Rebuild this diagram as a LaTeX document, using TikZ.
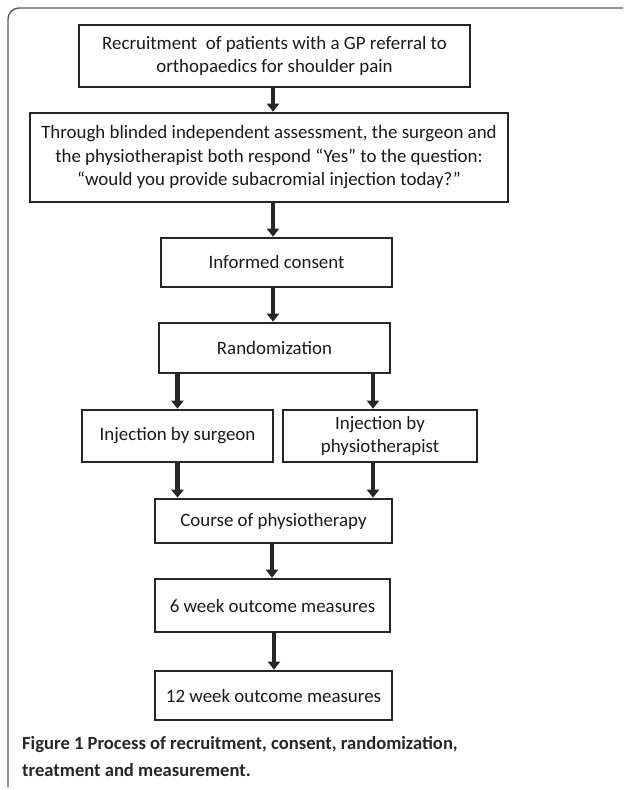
\documentclass[tikz,border=0pt]{standalone}
\usepackage{fontspec}
\setmainfont{Carlito}
\usetikzlibrary{arrows.meta, calc, positioning}

\begin{document}
\begin{tikzpicture}[x=1pt, y=-1pt,
		stage/.style={rectangle, draw=black!85, line width=2.6pt, align=center, inner sep=2pt,
			font=\fontsize{18.9}{23.5}\selectfont, text=black!90},
		flow/.style={-{Triangle[width=12pt, length=8pt]}, line width=4.2pt, black!85},
		frame/.style={draw=black!65, line width=1.4pt, rounded corners=11pt}
		]
	
		\useasboundingbox (0,0) rectangle (625,790);
		\draw[frame] (8,787) -- (8,8) -- (623,8);
	
		\node[stage, minimum width=391pt, minimum height=62pt] (recruit) at (274.5, 56) {Recruitment\ \ of patients with a GP referral to\\ orthopaedics for shoulder pain};
		\node[stage, minimum width=478pt, minimum height=89pt] (assess) at (269, 157.5) {Through blinded independent assessment, the surgeon and\\ the physiotherapist both respond “Yes” to the question:\\ “would you provide subacromial injection today?”};
		\node[stage, minimum width=231pt, minimum height=49pt] (consent) at (276.5, 262.5) {Informed consent};
		\node[stage, minimum width=231pt, minimum height=50pt] (random) at (274.5, 348) {Randomization};
		\node[stage, minimum width=191pt, minimum height=52pt] (surgeon) at (177.5, 436) {Injection by surgeon};
		\node[stage, minimum width=194pt, minimum height=52pt, inner ysep=0pt] (physio) at (380, 436) {Injection by\\ physiotherapist};
		\node[stage, minimum width=237pt, minimum height=44pt] (course) at (273.5, 521) {Course of physiotherapy};
		\node[stage, minimum width=235pt, minimum height=53pt] (week6) at (272.5, 605.5) {6 week outcome measures};
		\node[stage, minimum width=237pt, minimum height=49pt] (week12) at (273.5, 695.5) {12 week outcome measures};
	
		\draw[flow] (recruit.south -| 273,0) -- (assess.north -| 273,0);
		\draw[flow] (assess.south -| 273,0) -- (consent.north -| 273,0);
		\draw[flow] (consent.south -| 273,0) -- (random.north -| 273,0);
		\draw[flow] (random.south -| surgeon) -- (surgeon.north);
		\draw[flow] ([xshift=-7pt]physio.north |- random.south) -- ([xshift=-7pt]physio.north);
		\draw[flow] (surgeon.south) -- (surgeon.south |- course.north);
		\draw[flow] ([xshift=-7pt]physio.south) -- ([xshift=-7pt]physio.south |- course.north);
		\draw[flow] (course.south -| 272,0) -- (week6.north -| 272,0);
		\draw[flow] (week6.south -| 274,0) -- (week12.north -| 274,0);
	
		\node[anchor=north west, align=left, font=\fontsize{18.6}{27}\selectfont\bfseries, text=black!85, inner sep=0pt] (caption) at (22, 736) {Figure 1 Process of recruitment, consent, randomization,\\ treatment and measurement.};
	
	\end{tikzpicture}
\end{document}
